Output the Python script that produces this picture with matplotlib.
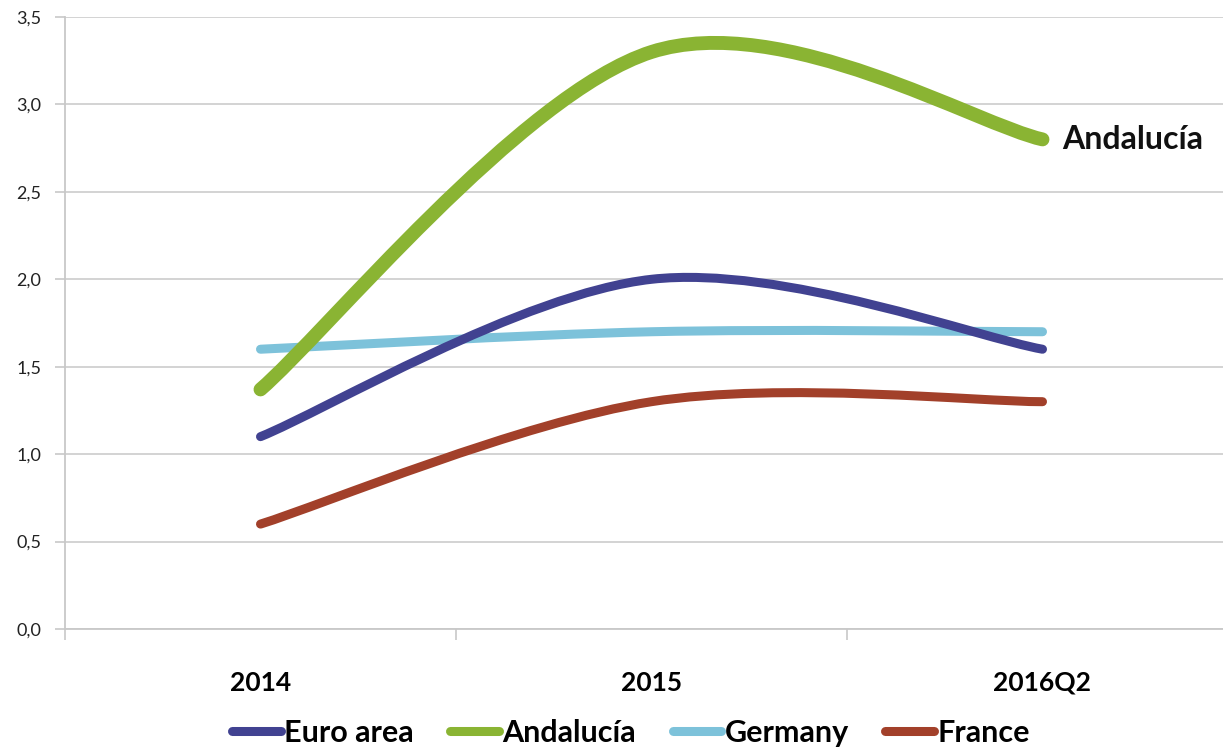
import matplotlib
matplotlib.use("Agg")
import matplotlib.pyplot as plt
from matplotlib.path import Path
from matplotlib.patches import PathPatch
from matplotlib.lines import Line2D

categories = ["2014", "2015", "2016Q2"]
euro_area = [1.10, 2.00, 1.60]
andalucia = [1.37, 3.30, 2.80]
germany = [1.60, 1.70, 1.70]
france = [0.60, 1.30, 1.30]

y_ticks = [0.0, 0.5, 1.0, 1.5, 2.0, 2.5, 3.0, 3.5]

plt.rcParams['font.family'] = ['Lato', 'DejaVu Sans']


def smooth_path(xs, ys):
    # excel-style smoothed line: cubic bezier, catmull-rom control points
    pts = list(zip(xs, ys))
    verts = [pts[0]]
    codes = [Path.MOVETO]
    n = len(pts)
    for i in range(n - 1):
        p0 = pts[i - 1] if i > 0 else pts[i]
        p1 = pts[i]
        p2 = pts[i + 1]
        p3 = pts[i + 2] if i + 2 < n else pts[i + 1]
        c1 = (p1[0] + (p2[0] - p0[0]) / 6, p1[1] + (p2[1] - p0[1]) / 6)
        c2 = (p2[0] - (p3[0] - p1[0]) / 6, p2[1] - (p3[1] - p1[1]) / 6)
        verts += [c1, c2, p2]
        codes += [Path.CURVE4] * 3
    return Path(verts, codes)


fig = plt.figure(figsize=(12.23, 7.48), dpi=100)
ax = fig.add_axes([65 / 1223, 119 / 748, 1173 / 1223, 612 / 748])

x = list(range(len(categories)))
series = [
    ("Euro area", euro_area, "#414291", 6.5),
    ("Andalucía", andalucia, "#8AB433", 10),
    ("Germany", germany, "#7DC2DA", 6.5),
    ("France", france, "#A2402A", 6.5),
]

# draw order: germany under others like the original
for name, vals, col, lw in [series[2], series[3], series[0], series[1]]:
    patch = PathPatch(smooth_path(x, vals), facecolor="none", edgecolor=col,
                      lw=lw, capstyle="round", joinstyle="round", zorder=3)
    ax.add_patch(patch)

ax.set_xlim(-0.5, 2.5)
ax.set_ylim(0, 3.5)

ax.set_yticks(y_ticks)
ax.set_yticklabels([f"{v:.1f}".replace(".", ",") for v in y_ticks])
ax.grid(axis="y", color="#D0D0D0", lw=1.3)
ax.set_axisbelow(True)

ax.set_xticks([-0.5, 0.5, 1.5, 2.5])
ax.set_xticklabels([])
ax.set_xticks(x, minor=True)
ax.set_xticklabels(categories, minor=True, fontsize=19, fontweight="bold")
ax.tick_params(axis="x", which="minor", length=0, pad=30)
ax.tick_params(axis="x", which="major", length=8, color="#C8C8C8", width=1.2)
ax.tick_params(axis="y", length=7, color="#C8C8C8", width=1.2,
               labelsize=13, labelcolor="#222222", pad=10)

for s in ["top", "right"]:
    ax.spines[s].set_visible(False)
ax.spines["left"].set_color("#C8C8C8")
ax.spines["bottom"].set_color("#C8C8C8")
ax.spines["left"].set_linewidth(1.3)
ax.spines["bottom"].set_linewidth(1.3)

ax.text(2.05, andalucia[2], "Andalucía", fontsize=23, fontweight="bold",
        va="center", ha="left", color="#111111")

handles = [Line2D([0], [0], color=c, lw=6.5, solid_capstyle="round")
           for _, _, c, _ in series]
fig.legend(handles, [s[0] for s in series], loc="lower center",
           bbox_to_anchor=(631 / 1223, -0.035), ncol=4, frameon=False,
           prop={"weight": "bold", "size": 22},
           handlelength=1.6, handletextpad=0.1, columnspacing=1.2)

fig.savefig("out.png", dpi=100)
